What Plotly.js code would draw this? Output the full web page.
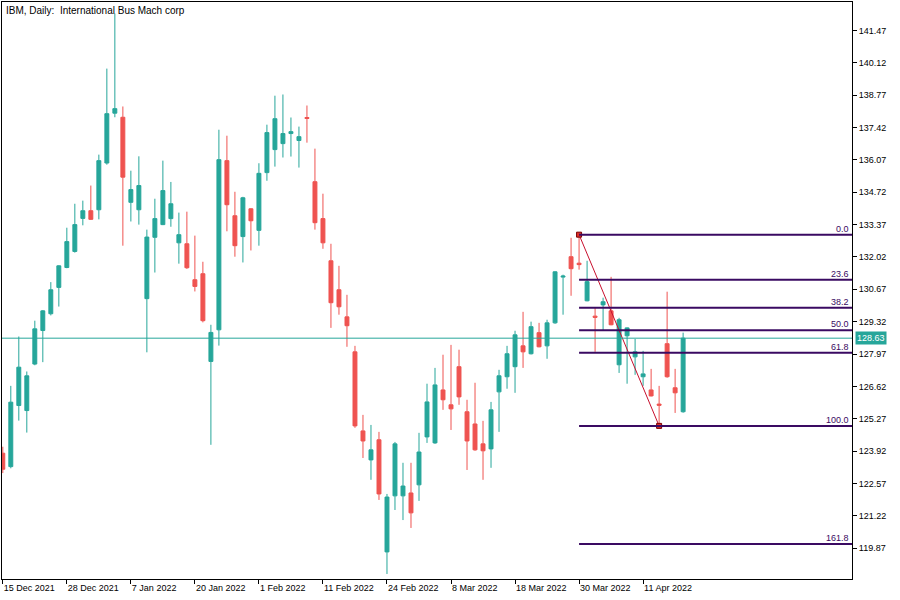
<!DOCTYPE html>
<html>
<head>
<meta charset="utf-8">
<script src="https://cdn.plot.ly/plotly-3.0.1.min.js"></script>
<style>html,body{margin:0;padding:0;background:#fff}#chart{width:900px;height:600px}</style>
</head>
<body>
<div id="chart"></div>
<script>
const dates = [
 '2021-12-15','2021-12-16','2021-12-17','2021-12-20','2021-12-21','2021-12-22','2021-12-23','2021-12-27','2021-12-28','2021-12-29','2021-12-30','2021-12-31',
 '2022-01-03','2022-01-04','2022-01-05','2022-01-06','2022-01-07','2022-01-10','2022-01-11','2022-01-12','2022-01-13','2022-01-14','2022-01-18','2022-01-19','2022-01-20','2022-01-21','2022-01-24','2022-01-25','2022-01-26','2022-01-27','2022-01-28','2022-01-31',
 '2022-02-01','2022-02-02','2022-02-03','2022-02-04','2022-02-07','2022-02-08','2022-02-09','2022-02-10','2022-02-11','2022-02-14','2022-02-15','2022-02-16','2022-02-17','2022-02-18','2022-02-22','2022-02-23','2022-02-24','2022-02-25','2022-02-28',
 '2022-03-01','2022-03-02','2022-03-03','2022-03-04','2022-03-07','2022-03-08','2022-03-09','2022-03-10','2022-03-11','2022-03-14','2022-03-15','2022-03-16','2022-03-17','2022-03-18','2022-03-21','2022-03-22','2022-03-23','2022-03-24','2022-03-25','2022-03-28','2022-03-29','2022-03-30','2022-03-31',
 '2022-04-01','2022-04-04','2022-04-05','2022-04-06','2022-04-07','2022-04-08','2022-04-11','2022-04-12','2022-04-13','2022-04-14','2022-04-18','2022-04-19'
];
const open = [123.83,123.27,125.82,125.61,127.55,128.95,129.65,130.75,131.58,132.25,133.63,133.95,
 133.99,135.94,138.02,137.85,134.30,133.99,130.28,132.84,133.37,133.62,132.61,132.57,131.07,131.32,127.66,128.98,136.04,133.74,132.87,134.03,
 133.13,135.54,136.50,136.75,137.17,136.88,137.84,135.16,133.62,131.86,130.65,129.52,128.06,124.76,123.55,124.39,119.71,122.05,122.05,
 122.17,122.51,124.51,124.26,126.47,125.85,127.44,125.56,125.05,124.22,124.01,126.39,127.02,127.44,128.31,127.98,128.86,128.31,129.27,131.18,132.03,131.76,130.19,
 129.55,130.02,129.77,127.52,128.73,127.85,127.02,126.47,125.88,128.40,126.56,125.56];
const high = [124.10,126.64,128.70,127.24,129.36,129.80,130.97,131.67,133.24,134.24,134.37,135.00,
 136.29,139.88,142.18,138.30,135.62,136.22,133.16,134.45,136.04,135.15,133.87,133.91,132.91,131.82,129.19,137.33,137.08,134.74,134.53,134.05,
 135.93,137.54,138.75,138.80,137.84,137.46,138.34,136.54,134.66,132.57,131.65,130.44,128.31,125.43,125.01,124.72,122.13,124.30,123.43,
 123.43,124.68,126.73,127.39,127.94,128.35,128.15,126.06,126.77,125.18,125.97,127.31,128.31,128.94,129.73,129.32,129.27,129.40,131.42,131.28,132.82,132.95,131.86,
 129.90,130.32,131.19,129.48,129.08,128.60,128.10,127.35,126.64,130.57,127.35,128.86];
const low = [123.00,123.20,125.19,124.69,127.50,127.63,129.58,129.95,131.55,132.20,133.34,133.57,
 133.59,135.87,137.85,132.49,133.50,133.37,128.04,131.37,133.35,133.28,131.74,131.52,130.58,129.29,124.18,128.32,133.09,132.03,131.79,132.29,
 132.49,135.20,135.79,136.17,136.21,135.75,136.79,133.16,132.36,129.06,129.61,128.27,124.89,123.63,122.72,121.88,118.79,121.46,121.04,
 120.71,121.84,124.26,124.22,125.64,124.80,125.85,123.13,123.93,122.72,123.22,124.72,126.52,126.35,127.39,127.95,128.25,127.77,129.23,129.61,130.40,131.49,130.17,
 128.06,128.94,129.17,127.18,126.73,127.10,126.64,126.20,124.97,126.98,125.51,125.52];
const close = [123.16,125.96,127.42,127.06,129.02,129.77,130.65,131.65,132.66,133.37,133.95,133.59,
 136.04,138.00,138.21,135.35,134.83,135.00,132.85,133.62,134.79,134.24,132.95,131.57,130.79,129.36,128.87,136.08,134.20,132.49,134.49,133.53,
 135.51,137.21,137.79,137.17,137.25,137.04,137.80,133.45,132.61,130.11,129.94,129.15,124.97,124.34,123.97,122.13,122.00,124.22,122.46,
 121.34,123.88,125.97,126.68,126.06,125.68,126.18,124.34,123.97,123.93,125.64,127.06,127.98,128.77,128.06,129.11,128.27,129.27,131.40,131.22,131.53,131.70,130.99,
 129.50,130.15,129.19,129.40,129.06,128.06,127.14,126.22,125.83,127.02,126.35,128.63];

const tickDates  = ['2021-12-15','2021-12-28','2022-01-07','2022-01-20','2022-02-01','2022-02-11','2022-02-24','2022-03-08','2022-03-18','2022-03-30','2022-04-11'];
const tickLabels = ['15 Dec 2021','28 Dec 2021','7 Jan 2022','20 Jan 2022','1 Feb 2022','11 Feb 2022','24 Feb 2022','8 Mar 2022','18 Mar 2022','30 Mar 2022','11 Apr 2022'];

const fibStartDate = '2022-03-30';
const fibEndDate = '2022-04-13';
const fibHigh = 132.95;
const fibLow = 124.97;
const fibLevels = [0.0, 23.6, 38.2, 50.0, 61.8, 100.0, 161.8];

const titleText = 'IBM, Daily:\u00a0 International Bus Mach corp';

const TEAL = '#26a69a', RED = '#ef5350', FIB = '#3a0a62';
const xRange = [-0.1, 106.1];
const yRange = [118.58, 142.66];
const lastPrice = close[close.length - 1];

const fibStartIdx = dates.indexOf(fibStartDate);

const shapes = [];
const annotations = [];
fibLevels.forEach(lv => {
  const y = fibHigh - (fibHigh - fibLow) * lv / 100;
  shapes.push({type:'line', xref:'x', yref:'y', x0: fibStartIdx, x1: xRange[1], y0: y, y1: y,
    line:{color: FIB, width: 2}});
  annotations.push({xref:'paper', yref:'y', x:1, y:y, xanchor:'right', yanchor:'bottom', xshift:-1, yshift:-1,
    text: lv.toFixed(1), showarrow:false, font:{family:'Liberation Sans, Arial, sans-serif', size:9, color: FIB}});
});
shapes.push({type:'line', xref:'paper', yref:'y', x0:0, x1:1, y0:lastPrice, y1:lastPrice, line:{color:TEAL, width:1}});

annotations.push({xref:'paper', yref:'y', x:1, y:lastPrice, xanchor:'left', yanchor:'middle', xshift:3,
  text: lastPrice.toFixed(2), showarrow:false, bgcolor: TEAL, borderpad:1,
  font:{family:'Liberation Sans, Arial, sans-serif', size:9, color:'#ffffff'}});
annotations.push({xref:'paper', yref:'paper', x:0, y:1, xanchor:'left', yanchor:'top', xshift:2, yshift:-1,
  text: titleText, showarrow:false, font:{family:'Liberation Sans, Arial, sans-serif', size:10, color:'#000'}});

const traces = [
  {type:'candlestick', x: dates, open: open, high: high, low: low, close: close,
   increasing:{line:{color:TEAL, width:1}, fillcolor:TEAL},
   decreasing:{line:{color:RED, width:1}, fillcolor:RED},
   whiskerwidth:0, hoverinfo:'skip', showlegend:false},
  {type:'scatter', mode:'lines+markers', x:[fibStartDate, fibEndDate], y:[fibHigh, fibLow],
   line:{color:'#c8102e', width:1},
   marker:{symbol:'square', size:5, color:'#e0302a', line:{color:'#7a0000', width:1}},
   hoverinfo:'skip', showlegend:false}
];

const layout = {
  width:900, height:600,
  margin:{l:2, r:48, t:2, b:21},
  paper_bgcolor:'#ffffff', plot_bgcolor:'#ffffff',
  font:{family:'Liberation Sans, Arial, sans-serif', size:9, color:'#000'},
  showlegend:false,
  xaxis:{type:'category', range:xRange, rangeslider:{visible:false},
    showgrid:false, zeroline:false, showline:true, mirror:true, linecolor:'#000', linewidth:1,
    ticks:'outside', ticklen:4, tickcolor:'#000', tickwidth:1,
    tickmode:'array', tickvals: tickDates, ticktext: tickLabels,
    ticklabelposition:'outside right', tickfont:{size:9}},
  yaxis:{side:'right', range:yRange, showgrid:false, zeroline:false,
    showline:true, mirror:true, linecolor:'#000', linewidth:1,
    ticks:'outside', ticklen:4, tickcolor:'#000', tickwidth:1,
    tickmode:'linear', tick0:119.87, dtick:1.35, tickformat:'.2f', tickfont:{size:9}},
  shapes: shapes,
  annotations: annotations
};

Plotly.newPlot('chart', traces, layout, {staticPlot:true, displayModeBar:false});
</script>
</body>
</html>
